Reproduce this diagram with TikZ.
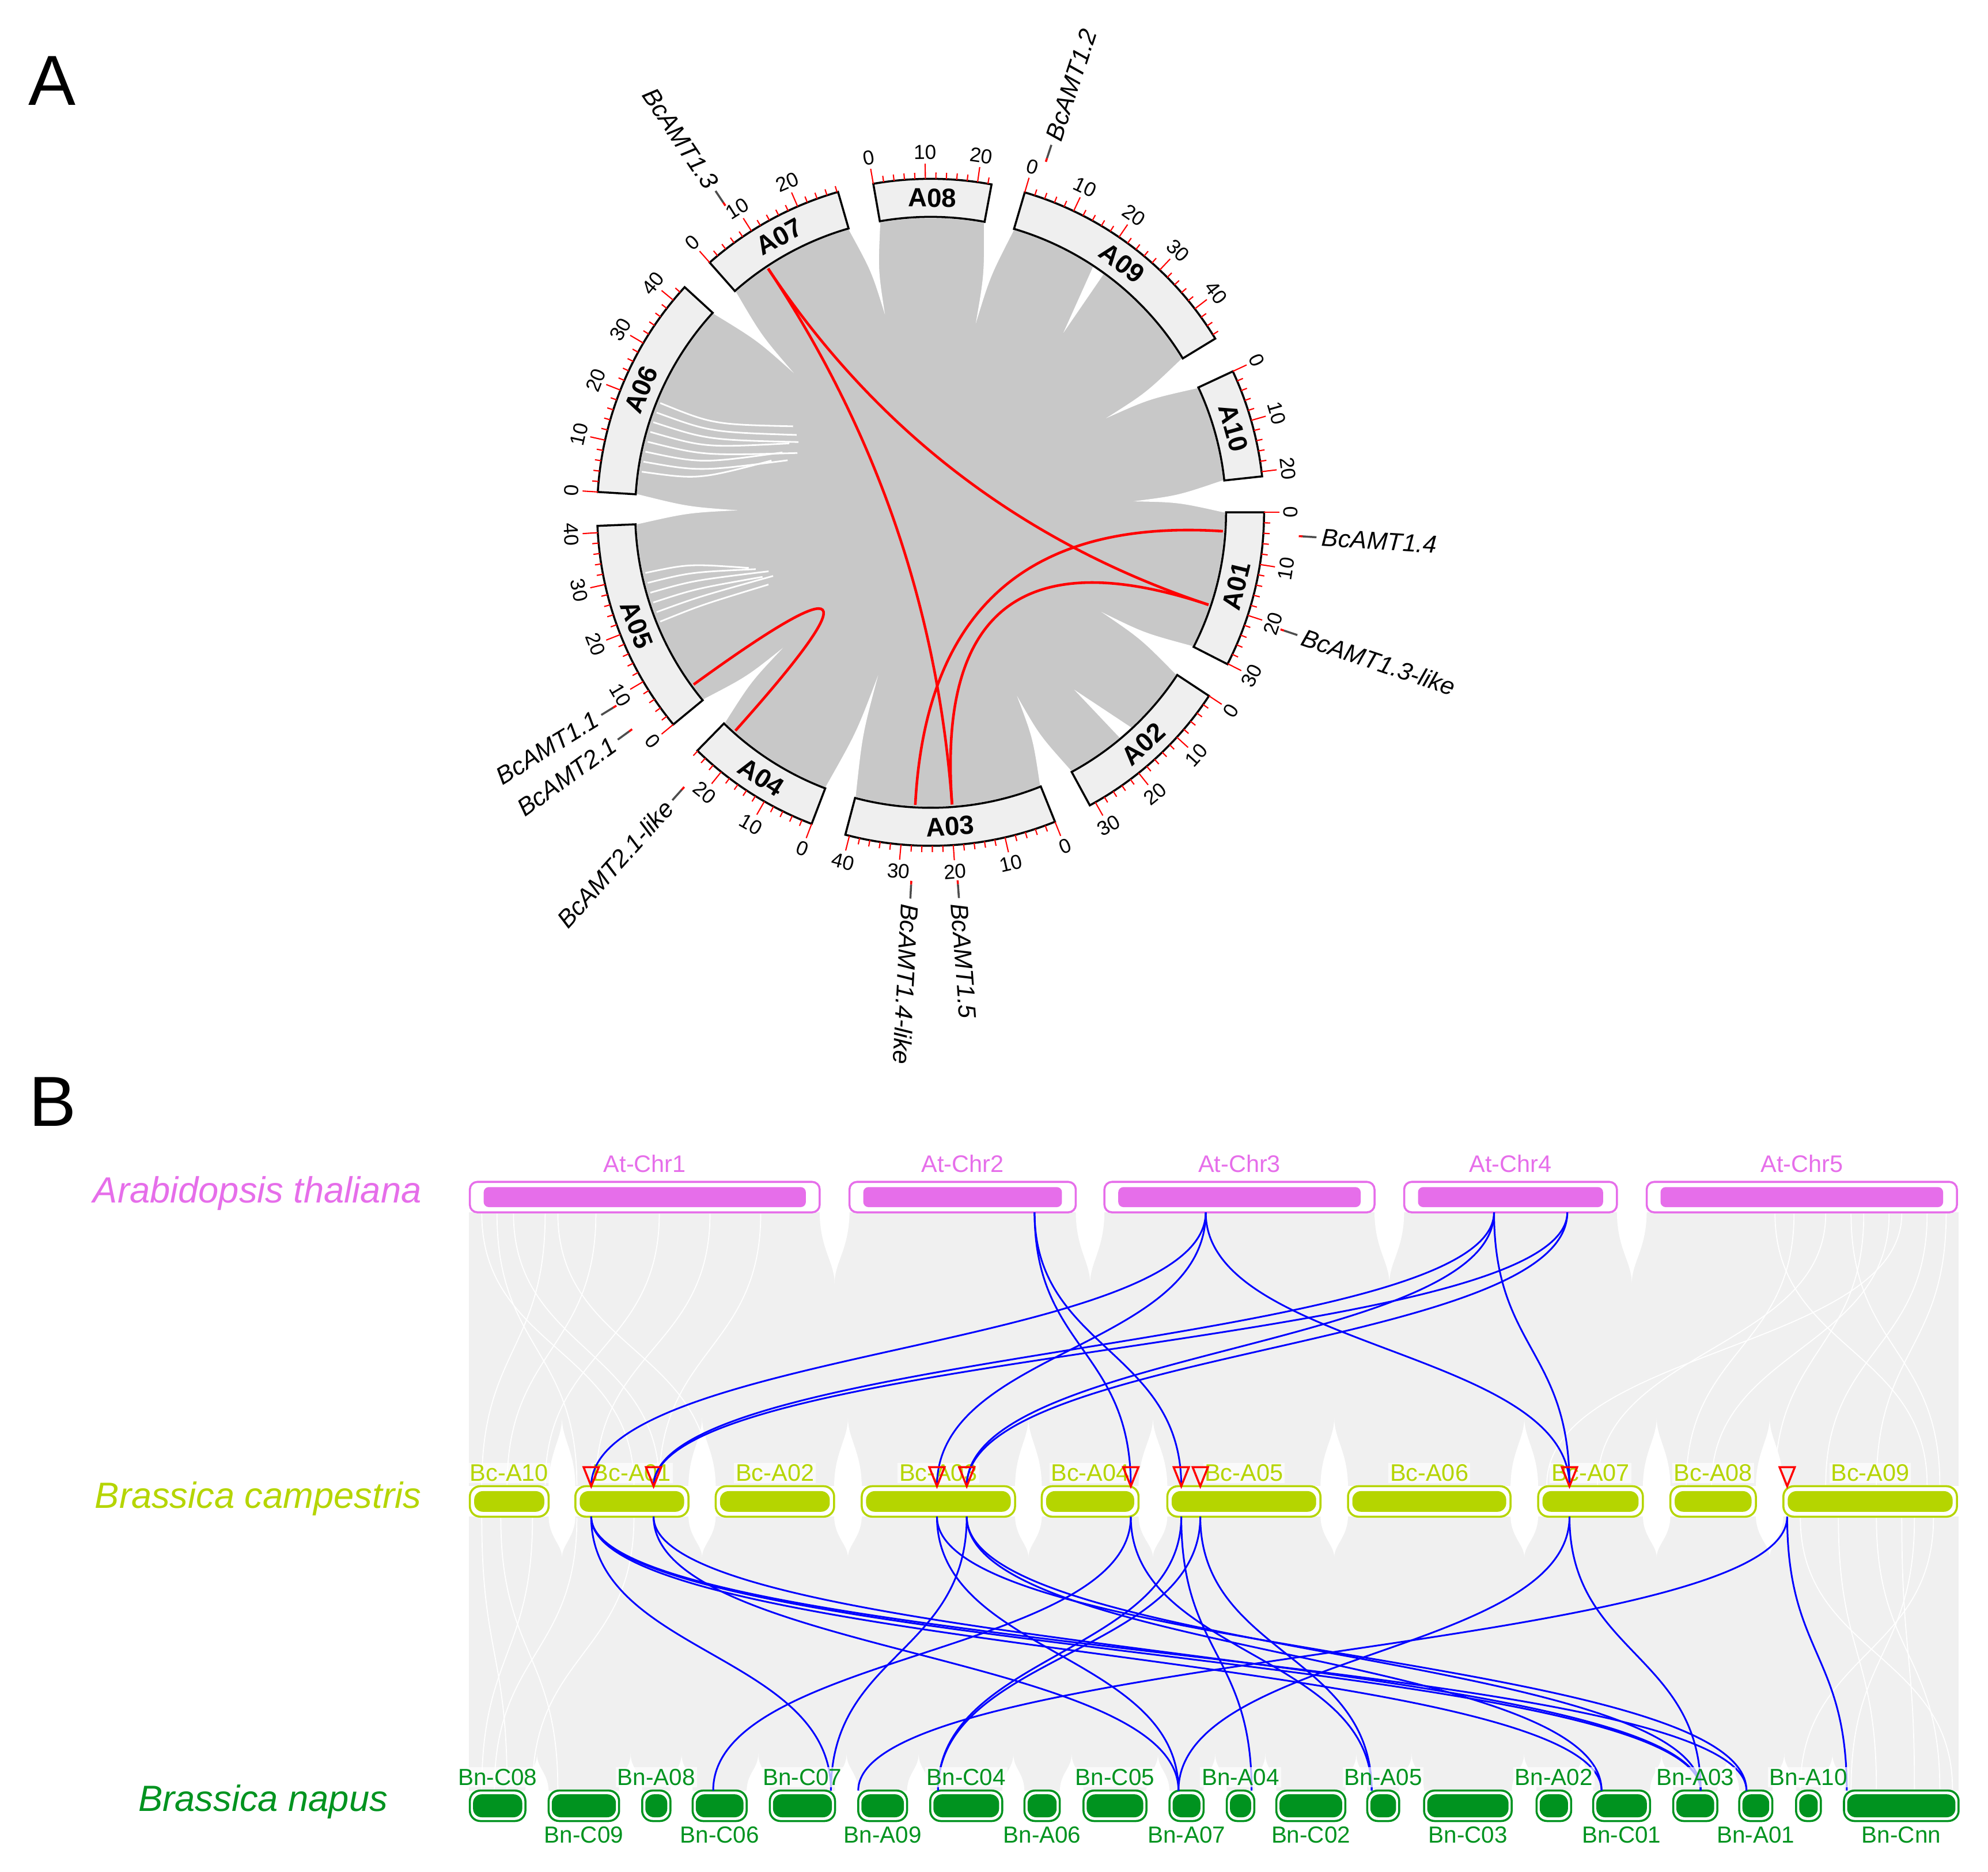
\documentclass[tikz,border=0pt]{standalone}
\usepackage{fontspec}
\setmainfont{Liberation Sans}
\usetikzlibrary{positioning,calc}

\definecolor{ribbon}{HTML}{C8C8C8}
\definecolor{bandgray}{HTML}{EFEFEF}
\definecolor{synbg}{HTML}{F0F0F0}
\definecolor{atcol}{HTML}{E66EEA}
\definecolor{bccol}{HTML}{B5D500}
\definecolor{bncol}{HTML}{00931F}
\definecolor{leadgray}{HTML}{4D4D4D}

\newdimen\unitpx
\unitpx=0.22009mm

\tikzset{
  panel/.style={font=\fontsize{35}{40}\selectfont, inner sep=0pt},
  band/.style={draw=black, line width=1pt, fill=bandgray},
  tick/.style={red, line width=0.6pt},
  ticklab/.style={font=\fontsize{10}{10}\selectfont, inner sep=0pt},
  chrlab/.style={font=\fontsize{13}{13}\selectfont\bfseries, inner sep=0pt},
  genelab/.style={font=\fontsize{12.2}{12.2}\selectfont\itshape, inner sep=0pt},
  dup/.style={red, line width=1.3pt,
    to path={.. controls ($(\tikztostart)!0.667!(O)$) and ($(\tikztotarget)!0.667!(O)$) .. (\tikztotarget)}},
  species/.style={font=\fontsize{18}{18}\selectfont\itshape, inner sep=0pt},
  atchr/.style={draw=atcol, line width=1pt, fill=white, rounded corners=1.3mm,
    minimum height=24*\unitpx, inner sep=0pt,
    path picture={\fill[atcol, rounded corners=0.9mm]
      ([shift={(2.4mm,-0.9mm)}]path picture bounding box.north west) rectangle
      ([shift={(-2.4mm,0.9mm)}]path picture bounding box.south east);}},
  bcchr/.style={draw=bccol, line width=1pt, fill=white, rounded corners=1.8mm,
    minimum height=24*\unitpx, inner sep=0pt,
    path picture={\fill[bccol, rounded corners=1.5mm]
      ([shift={(0.75mm,-0.85mm)}]path picture bounding box.north west) rectangle
      ([shift={(-0.75mm,0.85mm)}]path picture bounding box.south east);}},
  bnchr/.style={draw=bncol, line width=1pt, fill=white, rounded corners=1.8mm,
    minimum height=24*\unitpx, inner sep=0pt,
    path picture={\fill[bncol, rounded corners=1.5mm]
      ([shift={(0.55mm,-0.65mm)}]path picture bounding box.north west) rectangle
      ([shift={(-0.55mm,0.65mm)}]path picture bounding box.south east);}},
  atlab/.style={text=atcol, font=\fontsize{11.8}{11.8}\selectfont, inner sep=0pt},
  bclab/.style={text=bccol, font=\fontsize{11.8}{11.8}\selectfont, fill=white,
    fill opacity=0.7, text opacity=1, inner sep=0.8pt},
  bnlab/.style={text=bncol, font=\fontsize{11.5}{11.5}\selectfont, fill=white,
    fill opacity=0.7, text opacity=1, inner sep=0.8pt},
  syn/.style={blue, line width=0.85pt,
    to path={.. controls +(0,108) and +(0,-108) .. (\tikztotarget)}},
  gene/.style={draw=red, line width=1pt},
}

\begin{document}
\begin{tikzpicture}[x=0.22009mm, y=-0.22009mm]
\useasboundingbox (0,0) rectangle (1568,1476);

\node[panel] (labA) at (41,63.5) {A};
\node[panel] (labB) at (41.5,869) {B};

% A: collinearity circle of B. campestris
\begin{scope}[shift={(734,404)}, y=0.22009mm]
  \coordinate (O) at (0,0);
  \fill[ribbon] (O) circle[radius=232];
  % white gaps between ribbon bundles
  \foreach \ee/\st/\tip in {6.2/0/160, -27.1/-33.4/156, -61.5/-68.1/160,
      -104.8/-110.9/135, -134.4/-140.5/158, -177.7/-183.5/152, -222.5/-228.5/154,
      -253.9/-260.1/160, -280.5/-286.4/153, -328.6/-335/157}{
    \pgfmathsetmacro\ctr{(\ee+\st)/2}
    \fill[white] (\ee:237) -- (\ee:231)
      .. controls ({\ctr+0.25*(\ee-\ctr)}:{(231+\tip)/2}) .. (\ctr:\tip)
      .. controls ({\ctr+0.25*(\st-\ctr)}:{(231+\tip)/2}) .. (\st:231) -- (\st:237) -- cycle;
  }
  \foreach \ang/\ea/\er in {158/148/128, 160/150/122, 162/152/118, 164/154/124,
      166/156/115, 168/158/126, 170/160/120, 172/162/132}
    \draw[white, line width=0.8pt] (\ang:230) .. controls (\ang:185) .. (\ea:\er);
  \foreach \ang/\ea/\er in {-158/-156/140, -160/-158/134, -162/-159/142,
      -164/-160/136, -166/-162/145, -168/-163/150}
    \draw[white, line width=0.8pt] (\ang:230) .. controls (\ang:195) .. (\ea:\er);
  \fill[white] (54:232) -- (56.5:232) -- (53.5:176) -- cycle;
  \fill[white] (-47:232) -- (-50:232) -- (-51:180) -- cycle;

  % chromosomes, ticks every 2 Mb
  \foreach \nm/\st/\len/\mx in {A01/0/30.1/30, A02/-33.4/31.2/30, A03/-68.1/40.8/40,
      A04/-110.9/26.1/26, A05/-140.5/41.3/40, A06/-183.5/43.3/42, A07/-228.5/28.2/28,
      A08/-260.1/22.7/22, A09/-286.4/46.9/46, A10/-335/20.9/20}{
    \pgfmathsetmacro\en{\st-0.9*\len}
    \draw[band] (\st:233) arc[start angle=\st, end angle=\en, radius=233]
      -- (\en:263) arc[start angle=\en, end angle=\st, radius=263] -- cycle;
    \foreach \m in {0,2,...,\mx}{
      \pgfmathsetmacro\ang{\st-0.9*\m}
      \pgfmathtruncatemacro\major{mod(\m,10)==0}
      \ifnum\major=1
        \draw[tick] (\ang:263) -- (\ang:275);
        \pgfmathsetmacro\rot{sin(\ang)>0 ? \ang-90 : \ang+90}
        \node[ticklab, rotate=\rot] at (\ang:284) {\m};
      \else
        \draw[tick] (\ang:263) -- (\ang:268);
      \fi
    }
    \pgfmathsetmacro\ctr{(\st+\en)/2}
    \pgfmathsetmacro\rot{sin(\ctr)>0 ? \ctr-90 : \ctr+90}
    \node[chrlab, rotate=\rot] (\nm) at (\ctr:248) {\nm};
  }

  % AMT genes
  \foreach \g/\ang/\flip in {BcAMT1.4/-3.7/0, BcAMT1.3-like/-18.5/0, BcAMT1.5/-85.8/0,
      BcAMT1.4-like/-93/0, BcAMT2.1-like/-131.9/1, BcAMT2.1/-144/1, BcAMT1.1/-148.4/1,
      BcAMT1.3/123.8/1, BcAMT1.2/71.8/0}{
    \draw[red, line width=1pt] (\ang:291) -- (\ang:294);
    \draw[leadgray, line width=1pt] (\ang:294) -- (\ang:305);
    \ifnum\flip=0
      \node[genelab, anchor=west, rotate=\ang] at (\ang:309) {\g};
    \else
      \pgfmathsetmacro\rot{\ang+180}
      \node[genelab, anchor=east, rotate=\rot] at (\ang:309) {\g};
    \fi
  }

  \coordinate (amt14) at (-3.7:231);
  \coordinate (amt13like) at (-18.4:231);
  \coordinate (amt15) at (-85.8:231);
  \coordinate (amt14like) at (-93:231);
  \coordinate (amt21like) at (-131.8:231);
  \coordinate (amt21) at (-144:231);
  \coordinate (amt13) at (123.7:231);

  \path (amt13) edge[dup] (amt13like)
        (amt13) edge[dup] (amt15)
        (amt15) edge[dup] (amt13like)
        (amt14like) edge[dup] (amt14)
        (amt21) edge[dup] (amt21like);
\end{scope}

% B: synteny At - Bc - Bn
\fill[synbg] (370,956) rectangle (1545,1172);
\fill[synbg] (370,1196) rectangle (1545,1412);
\foreach \xa/\xb in {646.5/670, 848.5/871.1, 1084.1/1107.5, 1275.3/1298.8}
  \fill[white] (\xa,955) .. controls (\xa,985) and ({(\xa+\xb)/2},995) .. ({(\xa+\xb)/2},1012)
    .. controls ({(\xa+\xb)/2},995) and (\xb,985) .. (\xb,955) -- cycle;
\foreach \xa/\xb in {432.7/453.8, 543/564.5, 657.9/679.7, 800.6/821.7, 898/920.7,
    1041.5/1063.2, 1191.4/1213.2, 1295.8/1317.5, 1384.9/1406.6}{
  \fill[white] (\xa,1173) .. controls (\xa,1145) and ({(\xa+\xb)/2},1135) .. ({(\xa+\xb)/2},1118)
    .. controls ({(\xa+\xb)/2},1135) and (\xb,1145) .. (\xb,1173) -- cycle;
  \fill[white] (\xa,1195) .. controls (\xa,1212) and ({(\xa+\xb)/2},1218) .. ({(\xa+\xb)/2},1228)
    .. controls ({(\xa+\xb)/2},1218) and (\xb,1212) .. (\xb,1195) -- cycle;
}
\foreach \xa/\xb in {414.4/432.7, 488.3/506.5, 528.8/546.3, 588.9/607.2, 658.6/676.9,
    715.4/733.7, 790.5/808, 835.9/854.6, 904.2/922.4, 949.3/967.6, 989.3/1006.7,
    1061.1/1078.4, 1103.6/1123.2, 1192.3/1211.9, 1239.2/1256.6, 1301.4/1319.7,
    1354.5/1371.8, 1397.9/1416.6, 1436.2/1454.4}
  \fill[white] (\xa,1413) .. controls (\xa,1398) and ({(\xa+\xb)/2},1395) .. ({(\xa+\xb)/2},1383)
    .. controls ({(\xa+\xb)/2},1395) and (\xb,1398) .. (\xb,1413) -- cycle;
\foreach \xa/\xb in {392/455, 405/520, 430/380, 470/400, 520/430, 560/470, 600/520,
    440/560, 380/500, 1400/1520, 1415/1330, 1440/1260, 1470/1400, 1500/1220,
    1520/1440, 1535/1480, 1460/1530, 1490/1350}
  \draw[white, line width=0.5pt] (\xa,957) .. controls (\xa,1064) and (\xb,1064) .. (\xb,1171);
\foreach \xa/\xb in {380/400, 395/440, 420/380, 455/390, 500/420, 1420/1540, 1450/1480,
    1480/1530, 1510/1460, 1525/1420, 1500/1510}
  \draw[white, line width=0.5pt] (\xa,1197) .. controls (\xa,1304) and (\xb,1304) .. (\xb,1411);

\node[species, text=atcol] (spAt) at (203,941) {Arabidopsis thaliana};
\node[species, text=bccol] (spBc) at (203.5,1182) {Brassica campestris};
\node[species, text=bncol] (spBn) at (207.5,1421) {Brassica napus};

% A. thaliana
\node[atchr, minimum width=275.9*\unitpx] (At1) at (508.55,944) {};
\node[atchr, minimum width=178.5*\unitpx] (At2) at (759.25,944) {};
\node[atchr, minimum width=213*\unitpx] (At3) at (977.6,944) {};
\node[atchr, minimum width=167.8*\unitpx] (At4) at (1191.4,944) {};
\node[atchr, minimum width=244.7*\unitpx] (At5) at (1421.15,944) {};
\node[atlab, above=1.4mm of At1] (At1l) {At-Chr1};
\node[atlab, above=1.4mm of At2] (At2l) {At-Chr2};
\node[atlab, above=1.4mm of At3] (At3l) {At-Chr3};
\node[atlab, above=1.4mm of At4] (At4l) {At-Chr4};
\node[atlab, above=1.4mm of At5] (At5l) {At-Chr5};

% B. campestris
\node[bcchr, minimum width=62.1*\unitpx] (BcA10) at (401.65,1184) {};
\node[bcchr, minimum width=89.2*\unitpx] (BcA01) at (498.4,1184) {};
\node[bcchr, minimum width=93.4*\unitpx] (BcA02) at (611.2,1184) {};
\node[bcchr, minimum width=120.9*\unitpx] (BcA03) at (740.15,1184) {};
\node[bcchr, minimum width=76.3*\unitpx] (BcA04) at (859.85,1184) {};
\node[bcchr, minimum width=120.8*\unitpx] (BcA05) at (981.1,1184) {};
\node[bcchr, minimum width=128.2*\unitpx] (BcA06) at (1127.3,1184) {};
\node[bcchr, minimum width=82.6*\unitpx] (BcA07) at (1254.5,1184) {};
\node[bcchr, minimum width=67.4*\unitpx] (BcA08) at (1351.2,1184) {};
\node[bcchr, minimum width=136.9*\unitpx] (BcA09) at (1475.05,1184) {};
\node[bclab, above=0.3mm of BcA10] (BcA10l) {Bc-A10};
\node[bclab, above=0.3mm of BcA01] (BcA01l) {Bc-A01};
\node[bclab, above=0.3mm of BcA02] (BcA02l) {Bc-A02};
\node[bclab, above=0.3mm of BcA03] (BcA03l) {Bc-A03};
\node[bclab, above=0.3mm of BcA04] (BcA04l) {Bc-A04};
\node[bclab, above=0.3mm of BcA05] (BcA05l) {Bc-A05};
\node[bclab, above=0.3mm of BcA06] (BcA06l) {Bc-A06};
\node[bclab, above=0.3mm of BcA07] (BcA07l) {Bc-A07};
\node[bclab, above=0.3mm of BcA08] (BcA08l) {Bc-A08};
\node[bclab, above=0.3mm of BcA09] (BcA09l) {Bc-A09};

% B. napus
\node[bnchr, minimum width=43.8*\unitpx] (BnC08) at (392.5,1424) {};
\node[bnchr, minimum width=55.6*\unitpx] (BnC09) at (460.5,1424) {};
\node[bnchr, minimum width=22.3*\unitpx] (BnA08) at (517.65,1424) {};
\node[bnchr, minimum width=42.6*\unitpx] (BnC06) at (567.6,1424) {};
\node[bnchr, minimum width=51.4*\unitpx] (BnC07) at (632.9,1424) {};
\node[bnchr, minimum width=38.5*\unitpx] (BnA09) at (696.15,1424) {};
\node[bnchr, minimum width=56.8*\unitpx] (BnC04) at (762.1,1424) {};
\node[bnchr, minimum width=27.9*\unitpx] (BnA06) at (821.95,1424) {};
\node[bnchr, minimum width=49.6*\unitpx] (BnC05) at (879.4,1424) {};
\node[bnchr, minimum width=26.9*\unitpx] (BnA07) at (935.85,1424) {};
\node[bnchr, minimum width=21.7*\unitpx] (BnA04) at (978.45,1424) {};
\node[bnchr, minimum width=54.4*\unitpx] (BnC02) at (1033.9,1424) {};
\node[bnchr, minimum width=25.2*\unitpx] (BnA05) at (1091,1424) {};
\node[bnchr, minimum width=69.1*\unitpx] (BnC03) at (1157.75,1424) {};
\node[bnchr, minimum width=27.3*\unitpx] (BnA02) at (1225.55,1424) {};
\node[bnchr, minimum width=44.8*\unitpx] (BnC01) at (1279,1424) {};
\node[bnchr, minimum width=34.8*\unitpx] (BnA03) at (1337.1,1424) {};
\node[bnchr, minimum width=26.1*\unitpx] (BnA01) at (1384.85,1424) {};
\node[bnchr, minimum width=19.6*\unitpx] (BnA10) at (1426.4,1424) {};
\node[bnchr, minimum width=90.4*\unitpx] (BnCnn) at (1499.6,1424) {};

% gene positions
\coordinate (sAt2) at (816,956);
\coordinate (sAt3) at (951,956);
\coordinate (sAt4a) at (1178.4,956);
\coordinate (sAt4b) at (1236.2,956);
\foreach \g/\x in {A01a/466.3, A01b/515.5, A03a/739, A03b/762.5, A04/891.9,
    A05a/931.7, A05b/946.7, A07/1237.9, A09/1409.6}{
  \coordinate (m\g) at (\x,1172);
  \coordinate (b\g) at (\x,1196);
}
\coordinate (nC06) at (562.5,1412);
\coordinate (nC07) at (655.4,1412);
\coordinate (nA09) at (676.9,1412);
\coordinate (nC04) at (739.8,1412);
\coordinate (nA07) at (929.5,1412);
\coordinate (nA04) at (987.2,1412);
\coordinate (nA05) at (1081.9,1412);
\coordinate (nC01) at (1263.2,1412);
\coordinate (nA03) at (1341.4,1412);
\coordinate (nA01) at (1377.5,1412);
\coordinate (nCnn) at (1456.6,1412);

\path (sAt2) edge[syn] (mA04)
      (sAt2) edge[syn] (mA05a)
      (sAt3) edge[syn] (mA01a)
      (sAt3) edge[syn] (mA03a)
      (sAt3) edge[syn] (mA07)
      (sAt4a) edge[syn] (mA01b)
      (sAt4a) edge[syn] (mA03b)
      (sAt4a) edge[syn] (mA07)
      (sAt4b) edge[syn] (mA01b)
      (sAt4b) edge[syn] (mA03b);

\path (bA01a) edge[syn] (nC07)
      (bA01a) edge[syn] (nA03)
      (bA01a) edge[syn] (nA01)
      (bA01a) edge[syn] (nC01)
      (bA01b) edge[syn] (nA07)
      (bA01b) edge[syn] (nA03)
      (bA03a) edge[syn] (nA07)
      (bA03a) edge[syn] (nA01)
      (bA03b) edge[syn] (nC07)
      (bA03b) edge[syn] (nC01)
      (bA03b) edge[syn] (nA03)
      (bA04) edge[syn] (nC06)
      (bA04) edge[syn] (nA05)
      (bA05a) edge[syn] (nC04)
      (bA05a) edge[syn] (nA04)
      (bA05b) edge[syn] (nC04)
      (bA05b) edge[syn] (nA05)
      (bA07) edge[syn] (nA07)
      (bA07) edge[syn] (nA03)
      (bA09) edge[syn] (nA09)
      (bA09) edge[syn] (nCnn);

\node[bnlab, above=0.35mm of BnC08] (BnC08l) {Bn-C08};
\node[bnlab, below=0.42mm of BnC09] (BnC09l) {Bn-C09};
\node[bnlab, above=0.35mm of BnA08] (BnA08l) {Bn-A08};
\node[bnlab, below=0.42mm of BnC06] (BnC06l) {Bn-C06};
\node[bnlab, above=0.35mm of BnC07] (BnC07l) {Bn-C07};
\node[bnlab, below=0.42mm of BnA09] (BnA09l) {Bn-A09};
\node[bnlab, above=0.35mm of BnC04] (BnC04l) {Bn-C04};
\node[bnlab, below=0.42mm of BnA06] (BnA06l) {Bn-A06};
\node[bnlab, above=0.35mm of BnC05] (BnC05l) {Bn-C05};
\node[bnlab, below=0.42mm of BnA07] (BnA07l) {Bn-A07};
\node[bnlab, above=0.35mm of BnA04] (BnA04l) {Bn-A04};
\node[bnlab, below=0.42mm of BnC02] (BnC02l) {Bn-C02};
\node[bnlab, above=0.35mm of BnA05] (BnA05l) {Bn-A05};
\node[bnlab, below=0.42mm of BnC03] (BnC03l) {Bn-C03};
\node[bnlab, above=0.35mm of BnA02] (BnA02l) {Bn-A02};
\node[bnlab, below=0.42mm of BnC01] (BnC01l) {Bn-C01};
\node[bnlab, above=0.35mm of BnA03] (BnA03l) {Bn-A03};
\node[bnlab, below=0.42mm of BnA01] (BnA01l) {Bn-A01};
\node[bnlab, above=0.35mm of BnA10] (BnA10l) {Bn-A10};
\node[bnlab, below=0.42mm of BnCnn] (BnCnnl) {Bn-Cnn};

% AMT genes on B. campestris
\foreach \g in {A01a, A01b, A03a, A03b, A04, A05a, A05b, A07, A09}
  \draw[gene] (m\g) -- ++(-6,-15) -- ++(12,0) -- cycle;

\end{tikzpicture}
\end{document}
